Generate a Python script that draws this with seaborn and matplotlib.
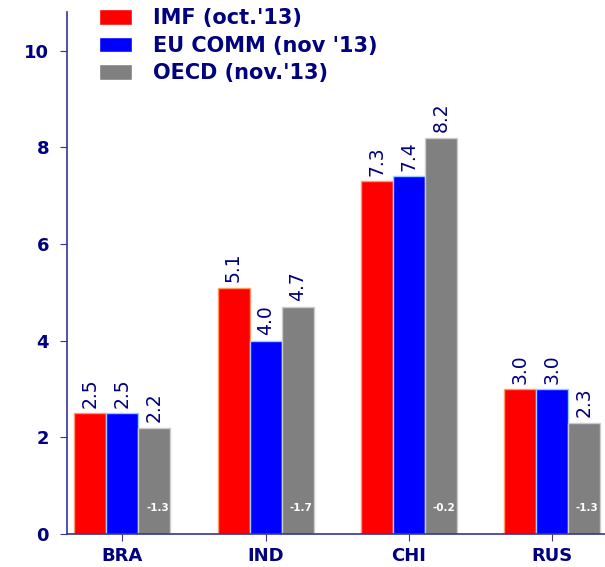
import numpy as np
import pandas as pd
import matplotlib
matplotlib.use('Agg')
import matplotlib.pyplot as plt
import seaborn as sns

# data
countries = ['BRA', 'IND', 'CHI', 'RUS']
series = ["IMF (oct.'13)", "EU COMM (nov '13)", "OECD (nov.'13)"]
imf = [2.5, 5.1, 7.3, 3.0]
eu_comm = [2.5, 4.0, 7.4, 3.0]
oecd = [2.2, 4.7, 8.2, 2.3]
oecd_diff = ['-1.3', '-1.7', '-0.2', '-1.3']

colors = ['#ff0000', '#0000ff', '#808080']
edges = ['#ff9966', '#99ccff', '#cccccc']
navy = '#000080'

df = pd.DataFrame({
    'country': countries * 3,
    'source': [series[0]] * 4 + [series[1]] * 4 + [series[2]] * 4,
    'value': imf + eu_comm + oecd,
})

sns.set_style('white')
plt.rcParams['font.family'] = ['DejaVu Sans']

fig = plt.figure(figsize=(6.05, 5.67), dpi=100)
ax = fig.add_axes([0.111, 0.058, 0.889, 0.921])

sns.barplot(data=df, x='country', y='value', hue='source', order=countries,
            hue_order=series, palette=colors, width=0.67, gap=0,
            saturation=1, errorbar=None, ax=ax, legend=True)

# edges and value labels
for cont, ec in zip(ax.containers, edges):
    for bar in cont:
        bar.set_edgecolor(ec)
        bar.set_linewidth(1)
    ax.bar_label(cont, fmt='%.1f', rotation=90, padding=4,
                 color=navy, fontsize=13.5)

# small white labels inside the OECD bars
for bar, txt in zip(ax.containers[2], oecd_diff):
    ax.text(bar.get_x() + bar.get_width() * 0.6, 0.54, txt, ha='center',
            va='center', color='white', fontsize=7.5, fontweight='bold')

ax.set_ylim(0, 10.8)
ax.set_xlim(-0.385, 3.37)
ax.set_yticks([0, 2, 4, 6, 8, 10])
ax.set_xlabel('')
ax.set_ylabel('')

for side in ['top', 'right']:
    ax.spines[side].set_visible(False)
for side in ['left', 'bottom']:
    ax.spines[side].set_color('#333399')
    ax.spines[side].set_linewidth(1.2)

ax.tick_params(axis='both', direction='out', length=5, color='#333399',
               labelcolor=navy, labelsize=13, left=True, bottom=True)
ax.tick_params(axis='y', pad=8)
ax.tick_params(axis='x', pad=4)
for lab in ax.get_xticklabels() + ax.get_yticklabels():
    lab.set_fontweight('bold')

leg = ax.legend(loc='upper left', bbox_to_anchor=(0.15, 1.0),
                bbox_transform=fig.transFigure, frameon=False,
                prop={'weight': 'bold', 'size': 15}, handlelength=1.6,
                handleheight=0.75, handletextpad=1.0, labelspacing=0.36,
                borderaxespad=0)
for t in leg.get_texts():
    t.set_color(navy)

fig.savefig('out.png', dpi=100)
